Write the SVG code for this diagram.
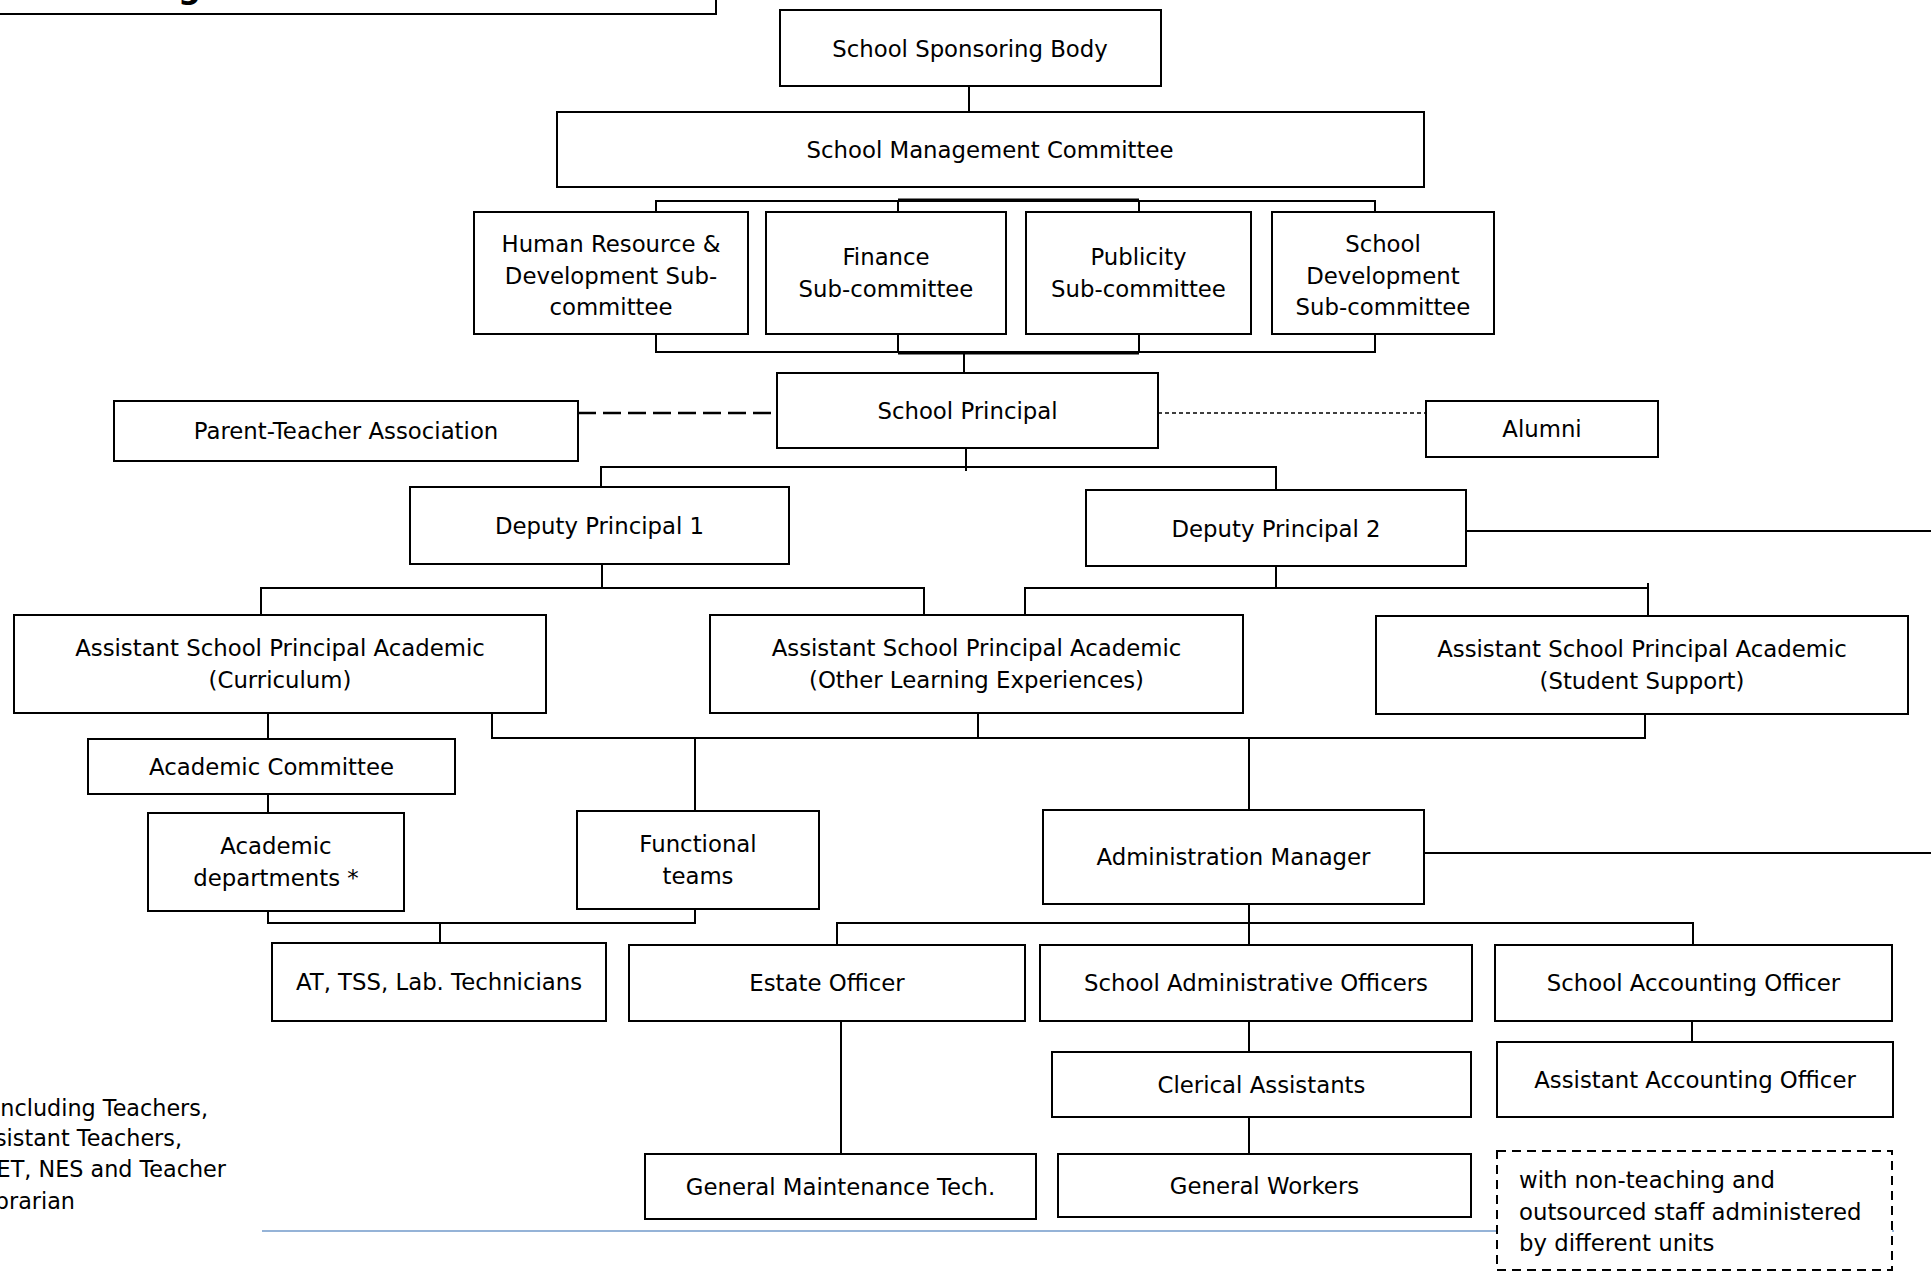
<svg xmlns="http://www.w3.org/2000/svg" width="1931" height="1272" viewBox="0 0 1931 1272">
<style>
.box{fill:#fff;stroke:#000;stroke-width:2}
.t{font-family:"DejaVu Sans","Liberation Sans",sans-serif;font-size:22.8px;fill:#000;text-anchor:middle}
.tl{font-family:"DejaVu Sans","Liberation Sans",sans-serif;font-size:22.8px;fill:#000}
.c{stroke:#000;stroke-width:2;fill:none}
</style>
<rect width="1931" height="1272" fill="#fff"/>
<g id="connectors">
<path class="c" d="M969 86V112"/>
<path class="c" d="M656 212V201H1375V212M898 201V212M1139 201V212"/>
<path class="c" d="M898 199.5H1139"/>
<path class="c" d="M656 334V352H1375V334M898 334V352M1139 334V352"/>
<path class="c" d="M898 353.5H1139"/>
<path class="c" d="M964 352V373"/>
<path class="c" d="M966 448V471"/>
<path class="c" d="M601 487V467H1276V490"/>
<path class="c" d="M602 564V588"/>
<path class="c" d="M261 615V588H924V615"/>
<path class="c" d="M1276 566V588"/>
<path class="c" d="M1025 615V588H1648V616M1648 583V590"/>
<path class="c" d="M1466 531H1931"/>
<path class="c" d="M268 713V739M268 794V813"/>
<path class="c" d="M492 713V738H1645V714M978 713V738"/>
<path class="c" d="M695 738V811M1249 738V810"/>
<path class="c" d="M1424 853H1931"/>
<path class="c" d="M268 911V923H695V909M440 923V943"/>
<path class="c" d="M1249 904V945M837 945V923H1693V945"/>
<path class="c" d="M841 1021V1154M1249 1021V1052M1249 1117V1154M1692 1021V1042"/>
<path d="M578 413H777" stroke="#000" stroke-width="2.5" stroke-dasharray="18 7" fill="none"/>
<path d="M1158 413H1426" stroke="#000" stroke-width="1.5" stroke-dasharray="4 3" fill="none"/>
<path d="M262 1231H1894" stroke="#95B3D7" stroke-width="2" fill="none"/>
</g>
<g id="title-fragment">
<rect class="box" x="-4" y="-20" width="720" height="34"/>
<text x="178" y="-2" font-family="DejaVu Sans,sans-serif" font-weight="bold" font-size="32">g</text>
</g>
<g id="ssb"><rect class="box" x="780" y="10" width="381" height="76"/><text class="t" x="970" y="56.5" font-size="24">School Sponsoring Body</text></g>
<g id="smc"><rect class="box" x="557" y="112" width="867" height="75"/><text class="t" x="990" y="158" font-size="23.8">School Management Committee</text></g>
<g id="hr"><rect class="box" x="474" y="212" width="274" height="122"/><text class="t" x="611" y="252" font-size="22.4">Human Resource &amp;</text><text class="t" x="611" y="283.5" font-size="22.4">Development Sub-</text><text class="t" x="611" y="315" font-size="22.4">committee</text></g>
<g id="finance"><rect class="box" x="766" y="212" width="240" height="122"/><text class="t" x="886" y="265" font-size="22.2">Finance</text><text class="t" x="886" y="296.5" font-size="22.2">Sub-committee</text></g>
<g id="publicity"><rect class="box" x="1026" y="212" width="225" height="122"/><text class="t" x="1138.5" y="265" font-size="22.2">Publicity</text><text class="t" x="1138.5" y="296.5" font-size="22.2">Sub-committee</text></g>
<g id="sdev"><rect class="box" x="1272" y="212" width="222" height="122"/><text class="t" x="1383" y="252" font-size="22.2">School</text><text class="t" x="1383" y="283.5" font-size="22.2">Development</text><text class="t" x="1383" y="315" font-size="22.2">Sub-committee</text></g>
<g id="principal"><rect class="box" x="777" y="373" width="381" height="75"/><text class="t" x="967.5" y="418.5" font-size="23.2">School Principal</text></g>
<g id="pta"><rect class="box" x="114" y="401" width="464" height="60"/><text class="t" x="346" y="439" font-size="23.5">Parent-Teacher Association</text></g>
<g id="alumni"><rect class="box" x="1426" y="401" width="232" height="56"/><text class="t" x="1542" y="437" font-size="21.5">Alumni</text></g>
<g id="dp1"><rect class="box" x="410" y="487" width="379" height="77"/><text class="t" x="599.5" y="534" font-size="24.5">Deputy Principal 1</text></g>
<g id="dp2"><rect class="box" x="1086" y="490" width="380" height="76"/><text class="t" x="1276" y="536.5" font-size="24.5">Deputy Principal 2</text></g>
<g id="asp-curriculum"><rect class="box" x="14" y="615" width="532" height="98"/><text class="t" x="280" y="656">Assistant School Principal Academic</text><text class="t" x="280" y="687.5">(Curriculum)</text></g>
<g id="asp-ole"><rect class="box" x="710" y="615" width="533" height="98"/><text class="t" x="976.5" y="656">Assistant School Principal Academic</text><text class="t" x="976.5" y="687.5">(Other Learning Experiences)</text></g>
<g id="asp-ss"><rect class="box" x="1376" y="616" width="532" height="98"/><text class="t" x="1642" y="657">Assistant School Principal Academic</text><text class="t" x="1642" y="688.5">(Student Support)</text></g>
<g id="acad-committee"><rect class="box" x="88" y="739" width="367" height="55"/><text class="t" x="271.5" y="774.5">Academic Committee</text></g>
<g id="acad-depts"><rect class="box" x="148" y="813" width="256" height="98"/><text class="t" x="276" y="854">Academic</text><text class="t" x="276" y="885.5">departments *</text></g>
<g id="functional"><rect class="box" x="577" y="811" width="242" height="98"/><text class="t" x="698" y="852">Functional</text><text class="t" x="698" y="883.5">teams</text></g>
<g id="admin-manager"><rect class="box" x="1043" y="810" width="381" height="94"/><text class="t" x="1233.5" y="865" font-size="23.2">Administration Manager</text></g>
<g id="at-tss"><rect class="box" x="272" y="943" width="334" height="78"/><text class="t" x="439" y="990" font-size="22.3">AT, TSS, Lab. Technicians</text></g>
<g id="estate"><rect class="box" x="629" y="945" width="396" height="76"/><text class="t" x="827" y="991" font-size="24">Estate Officer</text></g>
<g id="sao"><rect class="box" x="1040" y="945" width="432" height="76"/><text class="t" x="1256" y="991" font-size="23.2">School Administrative Officers</text></g>
<g id="saco"><rect class="box" x="1495" y="945" width="397" height="76"/><text class="t" x="1693.5" y="991" font-size="23.2">School Accounting Officer</text></g>
<g id="clerical"><rect class="box" x="1052" y="1052" width="419" height="65"/><text class="t" x="1261.5" y="1092.5">Clerical Assistants</text></g>
<g id="aao"><rect class="box" x="1497" y="1042" width="396" height="75"/><text class="t" x="1695" y="1087.5">Assistant Accounting Officer</text></g>
<g id="gmt"><rect class="box" x="645" y="1154" width="391" height="65"/><text class="t" x="840.5" y="1194.5" font-size="23.5">General Maintenance Tech.</text></g>
<g id="gw"><rect class="box" x="1058" y="1154" width="413" height="63"/><text class="t" x="1264.5" y="1194" font-size="24.5">General Workers</text></g>
<g id="note"><rect x="1497" y="1151" width="395" height="119" fill="#fff" stroke="#000" stroke-width="2" stroke-dasharray="9 6"/><text class="tl" x="1519" y="1188">with non-teaching and</text><text class="tl" x="1519" y="1220">outsourced staff administered</text><text class="tl" x="1519" y="1251">by different units</text></g>
<g id="footnote" font-family="DejaVu Sans,sans-serif" font-size="22.3" text-anchor="end" fill="#000">
<text x="208" y="1116">ncluding Teachers,</text>
<text x="182" y="1146">sistant Teachers,</text>
<text x="226" y="1177">ET, NES and Teacher</text>
<text x="75" y="1209">brarian</text>
</g>
</svg>
